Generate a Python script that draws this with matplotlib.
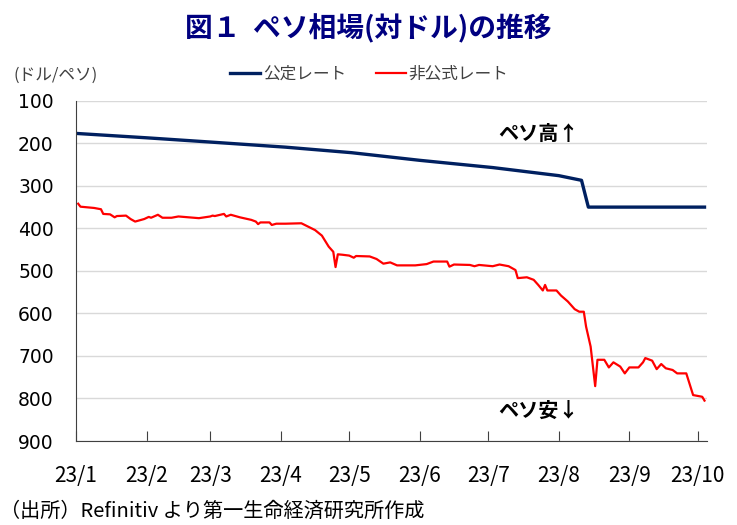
import matplotlib
matplotlib.use("Agg")
import matplotlib.pyplot as plt
import pandas as pd

plt.rcParams["font.family"] = ["Noto Sans CJK JP", "DejaVu Sans"]

# --- data ---
official_dates = ["2023-01-02", "2023-02-01", "2023-03-01", "2023-04-03", "2023-05-02",
                  "2023-06-01", "2023-07-03", "2023-08-01", "2023-08-11", "2023-08-14",
                  "2023-10-04"]
official_vals = [177, 187, 197, 209, 222, 240, 257, 276, 287, 350, 350]

parallel_dates = [
    "2023-01-02", "2023-01-03", "2023-01-09", "2023-01-12", "2023-01-13", "2023-01-16",
    "2023-01-18", "2023-01-19", "2023-01-23", "2023-01-25", "2023-01-27", "2023-01-31",
    "2023-02-02", "2023-02-03", "2023-02-06", "2023-02-08", "2023-02-12", "2023-02-15",
    "2023-02-24", "2023-03-01", "2023-03-02", "2023-03-03", "2023-03-07", "2023-03-08",
    "2023-03-10", "2023-03-14", "2023-03-19", "2023-03-21", "2023-03-22", "2023-03-23",
    "2023-03-27", "2023-03-28", "2023-03-30", "2023-04-03", "2023-04-10", "2023-04-13",
    "2023-04-16", "2023-04-19", "2023-04-22", "2023-04-24", "2023-04-25", "2023-04-26",
    "2023-04-28", "2023-05-01", "2023-05-03", "2023-05-04", "2023-05-10", "2023-05-13",
    "2023-05-16", "2023-05-19", "2023-05-22", "2023-05-30", "2023-06-04", "2023-06-07",
    "2023-06-13", "2023-06-14", "2023-06-16", "2023-06-23", "2023-06-25", "2023-06-27",
    "2023-07-03", "2023-07-06", "2023-07-10", "2023-07-13", "2023-07-14", "2023-07-18",
    "2023-07-21", "2023-07-23", "2023-07-25", "2023-07-26", "2023-07-27", "2023-07-31",
    "2023-08-02", "2023-08-05", "2023-08-08", "2023-08-10", "2023-08-12", "2023-08-13",
    "2023-08-15", "2023-08-17", "2023-08-18", "2023-08-21", "2023-08-23", "2023-08-25",
    "2023-08-28", "2023-08-30", "2023-09-01", "2023-09-05", "2023-09-07", "2023-09-08",
    "2023-09-11", "2023-09-13", "2023-09-15", "2023-09-17", "2023-09-20", "2023-09-22",
    "2023-09-26", "2023-09-29", "2023-10-03", "2023-10-04",
]
parallel_vals = [
    342, 349, 352, 355, 366, 367,
    374, 371, 370, 378, 384, 378,
    373, 375, 368, 375, 375, 372,
    376, 372, 370, 371, 366, 372,
    368, 374, 380, 384, 390, 386,
    386, 392, 389, 389, 388, 396,
    404, 417, 443, 455, 491, 461,
    462, 464, 469, 465, 466, 472,
    483, 480, 487, 487, 484, 478,
    478, 490, 485, 486, 489, 486,
    489, 485, 489, 498, 517, 515,
    521, 533, 546, 533, 546, 546,
    558, 572, 590, 596, 596, 631,
    678, 771, 709, 709, 727, 715,
    725, 741, 727, 727, 715, 705,
    711, 731, 719, 729, 733, 741,
    741, 792, 796, 805,
]

month_ticks = pd.date_range("2023-01-01", "2023-10-01", freq="MS")
tick_labels = [f"23/{d.month}" for d in month_ticks]

NAVY = "#002060"
RED = "#ff0000"

fig = plt.figure(figsize=(7.37, 5.25), dpi=100)
ax = fig.add_axes([0.103, 0.160, 0.856, 0.648])

l_off, = ax.plot(pd.to_datetime(official_dates), official_vals, color=NAVY, lw=2.4)
l_par, = ax.plot(pd.to_datetime(parallel_dates), parallel_vals, color=RED, lw=1.6)

ax.set_ylim(900, 100)
ax.set_yticks(range(100, 1000, 100))
ax.set_xlim(pd.Timestamp("2023-01-01"), pd.Timestamp("2023-10-05"))
ax.set_xticks(month_ticks)
ax.set_xticklabels(tick_labels, fontsize=15)
for lab in ax.get_yticklabels():
    lab.set_family("DejaVu Sans")

ax.grid(axis="y", color="#d9d9d9", lw=1)
ax.set_axisbelow(True)
for side in ("top", "right"):
    ax.spines[side].set_visible(False)
ax.spines["left"].set_color("#404040")
ax.spines["bottom"].set_color("#404040")
ax.tick_params(axis="y", length=0, pad=16, labelsize=13.5, labelcolor="#000000")
ax.tick_params(axis="x", direction="in", length=7, color="#404040", pad=17,
               labelcolor="#000000")

# title, unit label, legend
fig.text(0.5, 0.945, "図１  ペソ相場(対ドル)の推移", ha="center", va="center",
         fontsize=20, fontweight="bold", color="#000080")
fig.text(0.018, 0.857, "(ドル/ペソ)", ha="left", va="center", fontsize=12,
         color="#404040")
fig.legend([l_off, l_par], ["公定レート", "非公式レート"], loc="center",
           bbox_to_anchor=(0.501, 0.858), ncol=2, frameon=False, fontsize=12,
           handlelength=1.8, handletextpad=0.15, columnspacing=1.8,
           labelcolor="#404040")

# direction notes
ax.text(0.67, 0.905, "ペソ高↑", transform=ax.transAxes, ha="left", va="center",
        fontsize=14.5, fontweight="bold")
ax.text(0.67, 0.09, "ペソ安↓", transform=ax.transAxes, ha="left", va="center",
        fontsize=14.5, fontweight="bold")

fig.text(0.0, 0.026, "（出所）Refinitiv より第一生命経済研究所作成", ha="left",
         va="center", fontsize=14.5, color="#000000")

fig.savefig("out.png", dpi=100)
